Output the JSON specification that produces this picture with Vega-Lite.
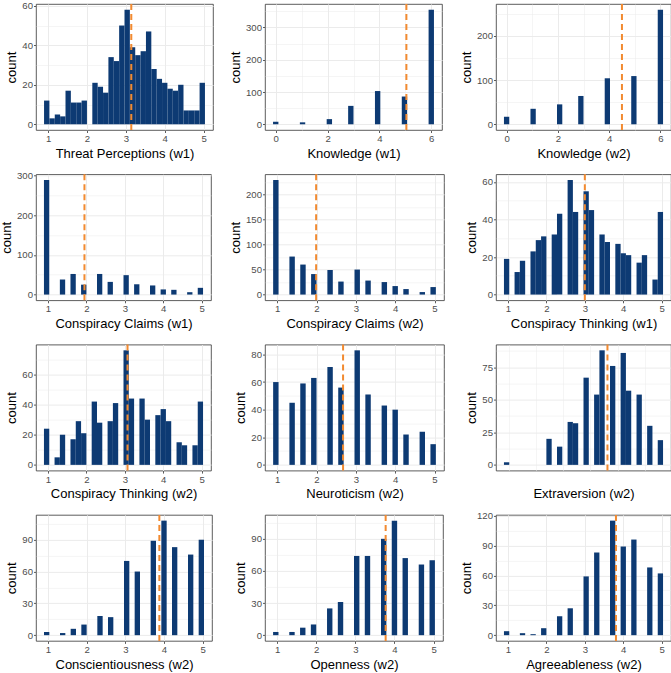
{
"$schema": "https://vega.github.io/schema/vega-lite/v6.json",
"padding": {"left": 0, "top": 0, "right": 0, "bottom": 0},
"background": "white",
"config": {
  "view": {"stroke": "#333333", "strokeWidth": 0.8},
  "font": "Liberation Sans",
  "axis": {"domain": false, "grid": true, "gridColor": "#EBEBEB", "labelColor": "#4D4D4D", "labelFontSize": 9.6, "labelFont": "Liberation Sans", "titleFont": "Liberation Sans", "titleFontSize": 13, "titleFontWeight": "normal", "titleColor": "#000000", "tickColor": "#333333", "tickSize": 2.5, "tickWidth": 0.8, "labelOverlap": false, "labelFlush": false, "labelBound": false, "tickCount": 100},
  "axisX": {"labelPadding": 1, "titlePadding": 4},
  "axisY": {"labelPadding": 1, "titlePadding": 3}
},
"datasets": {
"means": [
 {"panel": "P1", "mean": 3.14}, {"panel": "P2", "mean": 5.04}, {"panel": "P3", "mean": 4.5},
 {"panel": "P4", "mean": 1.95}, {"panel": "P5", "mean": 1.99}, {"panel": "P6", "mean": 3.0},
 {"panel": "P7", "mean": 3.07}, {"panel": "P8", "mean": 2.675}, {"panel": "P9", "mean": 3.13},
 {"panel": "P10", "mean": 3.88}, {"panel": "P11", "mean": 3.775}, {"panel": "P12", "mean": 3.81}
],
"bins": [
 {"panel": "P1", "start": 0.8966, "end": 1.0345, "count": 12},
 {"panel": "P1", "start": 1.0345, "end": 1.1724, "count": 3},
 {"panel": "P1", "start": 1.1724, "end": 1.3103, "count": 5},
 {"panel": "P1", "start": 1.3103, "end": 1.4483, "count": 4},
 {"panel": "P1", "start": 1.4483, "end": 1.5862, "count": 17},
 {"panel": "P1", "start": 1.5862, "end": 1.7241, "count": 11},
 {"panel": "P1", "start": 1.7241, "end": 1.8621, "count": 11},
 {"panel": "P1", "start": 1.8621, "end": 2.0, "count": 12},
 {"panel": "P1", "start": 2.1379, "end": 2.2759, "count": 21},
 {"panel": "P1", "start": 2.2759, "end": 2.4138, "count": 19},
 {"panel": "P1", "start": 2.4138, "end": 2.5517, "count": 16},
 {"panel": "P1", "start": 2.5517, "end": 2.6897, "count": 34},
 {"panel": "P1", "start": 2.6897, "end": 2.8276, "count": 32},
 {"panel": "P1", "start": 2.8276, "end": 2.9655, "count": 50},
 {"panel": "P1", "start": 2.9655, "end": 3.1034, "count": 58},
 {"panel": "P1", "start": 3.1034, "end": 3.2414, "count": 39},
 {"panel": "P1", "start": 3.2414, "end": 3.3793, "count": 35},
 {"panel": "P1", "start": 3.3793, "end": 3.5172, "count": 37},
 {"panel": "P1", "start": 3.5172, "end": 3.6552, "count": 47},
 {"panel": "P1", "start": 3.6552, "end": 3.7931, "count": 28},
 {"panel": "P1", "start": 3.7931, "end": 3.9310, "count": 23},
 {"panel": "P1", "start": 3.9310, "end": 4.0690, "count": 21},
 {"panel": "P1", "start": 4.0690, "end": 4.2069, "count": 18},
 {"panel": "P1", "start": 4.2069, "end": 4.3448, "count": 17},
 {"panel": "P1", "start": 4.3448, "end": 4.4828, "count": 20},
 {"panel": "P1", "start": 4.4828, "end": 4.6207, "count": 7},
 {"panel": "P1", "start": 4.6207, "end": 4.7586, "count": 7},
 {"panel": "P1", "start": 4.7586, "end": 4.8966, "count": 7},
 {"panel": "P1", "start": 4.8966, "end": 5.0345, "count": 21},
 {"panel": "P2", "start": -0.1034, "end": 0.1034, "count": 8},
 {"panel": "P2", "start": 0.9310, "end": 1.1379, "count": 6},
 {"panel": "P2", "start": 1.9655, "end": 2.1724, "count": 16},
 {"panel": "P2", "start": 2.7931, "end": 3.0, "count": 57},
 {"panel": "P2", "start": 3.8276, "end": 4.0345, "count": 103},
 {"panel": "P2", "start": 4.8621, "end": 5.0690, "count": 86},
 {"panel": "P2", "start": 5.8966, "end": 6.1034, "count": 355},
 {"panel": "P3", "start": -0.1034, "end": 0.1034, "count": 17},
 {"panel": "P3", "start": 0.9310, "end": 1.1379, "count": 35},
 {"panel": "P3", "start": 1.9655, "end": 2.1724, "count": 45},
 {"panel": "P3", "start": 2.7931, "end": 3.0, "count": 64},
 {"panel": "P3", "start": 3.8276, "end": 4.0345, "count": 104},
 {"panel": "P3", "start": 4.8621, "end": 5.0690, "count": 109},
 {"panel": "P3", "start": 5.8966, "end": 6.1034, "count": 259},
 {"panel": "P4", "start": 0.8966, "end": 1.0345, "count": 289},
 {"panel": "P4", "start": 1.3103, "end": 1.4483, "count": 38},
 {"panel": "P4", "start": 1.5862, "end": 1.7241, "count": 52},
 {"panel": "P4", "start": 1.8621, "end": 2.0, "count": 25},
 {"panel": "P4", "start": 2.2759, "end": 2.4138, "count": 52},
 {"panel": "P4", "start": 2.5517, "end": 2.6897, "count": 32},
 {"panel": "P4", "start": 2.9655, "end": 3.1034, "count": 49},
 {"panel": "P4", "start": 3.2414, "end": 3.3793, "count": 26},
 {"panel": "P4", "start": 3.6552, "end": 3.7931, "count": 23},
 {"panel": "P4", "start": 3.9310, "end": 4.0690, "count": 13},
 {"panel": "P4", "start": 4.2069, "end": 4.3448, "count": 12},
 {"panel": "P4", "start": 4.6207, "end": 4.7586, "count": 6},
 {"panel": "P4", "start": 4.8966, "end": 5.0345, "count": 17},
 {"panel": "P5", "start": 0.8966, "end": 1.0345, "count": 229},
 {"panel": "P5", "start": 1.3103, "end": 1.4483, "count": 76},
 {"panel": "P5", "start": 1.5862, "end": 1.7241, "count": 60},
 {"panel": "P5", "start": 1.8621, "end": 2.0, "count": 41},
 {"panel": "P5", "start": 2.2759, "end": 2.4138, "count": 49},
 {"panel": "P5", "start": 2.5517, "end": 2.6897, "count": 26},
 {"panel": "P5", "start": 2.9655, "end": 3.1034, "count": 50},
 {"panel": "P5", "start": 3.2414, "end": 3.3793, "count": 28},
 {"panel": "P5", "start": 3.6552, "end": 3.7931, "count": 25},
 {"panel": "P5", "start": 3.9310, "end": 4.0690, "count": 17},
 {"panel": "P5", "start": 4.2069, "end": 4.3448, "count": 11},
 {"panel": "P5", "start": 4.6207, "end": 4.7586, "count": 5},
 {"panel": "P5", "start": 4.8966, "end": 5.0345, "count": 15},
 {"panel": "P6", "start": 0.8966, "end": 1.0345, "count": 19},
 {"panel": "P6", "start": 1.1724, "end": 1.3103, "count": 12},
 {"panel": "P6", "start": 1.3103, "end": 1.4483, "count": 18},
 {"panel": "P6", "start": 1.5862, "end": 1.7241, "count": 23},
 {"panel": "P6", "start": 1.7241, "end": 1.8621, "count": 29},
 {"panel": "P6", "start": 1.8621, "end": 2.0, "count": 31},
 {"panel": "P6", "start": 2.1379, "end": 2.2759, "count": 32},
 {"panel": "P6", "start": 2.2759, "end": 2.4138, "count": 43},
 {"panel": "P6", "start": 2.5517, "end": 2.6897, "count": 61},
 {"panel": "P6", "start": 2.6897, "end": 2.8276, "count": 44},
 {"panel": "P6", "start": 2.9655, "end": 3.1034, "count": 55},
 {"panel": "P6", "start": 3.1034, "end": 3.2414, "count": 45},
 {"panel": "P6", "start": 3.3793, "end": 3.5172, "count": 32},
 {"panel": "P6", "start": 3.5172, "end": 3.6552, "count": 28},
 {"panel": "P6", "start": 3.7931, "end": 3.9310, "count": 27},
 {"panel": "P6", "start": 3.9310, "end": 4.0690, "count": 22},
 {"panel": "P6", "start": 4.0690, "end": 4.2069, "count": 21},
 {"panel": "P6", "start": 4.3448, "end": 4.4828, "count": 17},
 {"panel": "P6", "start": 4.4828, "end": 4.6207, "count": 21},
 {"panel": "P6", "start": 4.7586, "end": 4.8966, "count": 8},
 {"panel": "P6", "start": 4.8966, "end": 5.0345, "count": 44},
 {"panel": "P7", "start": 0.8966, "end": 1.0345, "count": 24},
 {"panel": "P7", "start": 1.1724, "end": 1.3103, "count": 5},
 {"panel": "P7", "start": 1.3103, "end": 1.4483, "count": 20},
 {"panel": "P7", "start": 1.5862, "end": 1.7241, "count": 17},
 {"panel": "P7", "start": 1.7241, "end": 1.8621, "count": 29},
 {"panel": "P7", "start": 1.8621, "end": 2.0, "count": 21},
 {"panel": "P7", "start": 2.1379, "end": 2.2759, "count": 42},
 {"panel": "P7", "start": 2.2759, "end": 2.4138, "count": 28},
 {"panel": "P7", "start": 2.5517, "end": 2.6897, "count": 29},
 {"panel": "P7", "start": 2.6897, "end": 2.8276, "count": 41},
 {"panel": "P7", "start": 2.9655, "end": 3.1034, "count": 76},
 {"panel": "P7", "start": 3.1034, "end": 3.2414, "count": 44},
 {"panel": "P7", "start": 3.3793, "end": 3.5172, "count": 44},
 {"panel": "P7", "start": 3.5172, "end": 3.6552, "count": 30},
 {"panel": "P7", "start": 3.7931, "end": 3.9310, "count": 33},
 {"panel": "P7", "start": 3.9310, "end": 4.0690, "count": 37},
 {"panel": "P7", "start": 4.0690, "end": 4.2069, "count": 29},
 {"panel": "P7", "start": 4.3448, "end": 4.4828, "count": 15},
 {"panel": "P7", "start": 4.4828, "end": 4.6207, "count": 13},
 {"panel": "P7", "start": 4.7586, "end": 4.8966, "count": 13},
 {"panel": "P7", "start": 4.8966, "end": 5.0345, "count": 42},
 {"panel": "P8", "start": 0.8966, "end": 1.0345, "count": 60},
 {"panel": "P8", "start": 1.3103, "end": 1.4483, "count": 45},
 {"panel": "P8", "start": 1.5862, "end": 1.7241, "count": 59},
 {"panel": "P8", "start": 1.8621, "end": 2.0, "count": 63},
 {"panel": "P8", "start": 2.2759, "end": 2.4138, "count": 71},
 {"panel": "P8", "start": 2.5517, "end": 2.6897, "count": 56},
 {"panel": "P8", "start": 2.9655, "end": 3.1034, "count": 83},
 {"panel": "P8", "start": 3.2414, "end": 3.3793, "count": 51},
 {"panel": "P8", "start": 3.6552, "end": 3.7931, "count": 43},
 {"panel": "P8", "start": 3.9310, "end": 4.0690, "count": 40},
 {"panel": "P8", "start": 4.2069, "end": 4.3448, "count": 22},
 {"panel": "P8", "start": 4.6207, "end": 4.7586, "count": 24},
 {"panel": "P8", "start": 4.8966, "end": 5.0345, "count": 15},
 {"panel": "P9", "start": -0.6839, "end": -0.4885, "count": 2},
 {"panel": "P9", "start": 0.8793, "end": 1.0747, "count": 20},
 {"panel": "P9", "start": 1.2701, "end": 1.4655, "count": 14},
 {"panel": "P9", "start": 1.6609, "end": 1.8563, "count": 33},
 {"panel": "P9", "start": 1.8563, "end": 2.0517, "count": 32},
 {"panel": "P9", "start": 2.2471, "end": 2.4425, "count": 67},
 {"panel": "P9", "start": 2.6379, "end": 2.8333, "count": 54},
 {"panel": "P9", "start": 2.8333, "end": 3.0287, "count": 88},
 {"panel": "P9", "start": 3.2241, "end": 3.4195, "count": 76},
 {"panel": "P9", "start": 3.6149, "end": 3.8103, "count": 86},
 {"panel": "P9", "start": 3.8103, "end": 4.0057, "count": 57},
 {"panel": "P9", "start": 4.2011, "end": 4.3966, "count": 54},
 {"panel": "P9", "start": 4.5920, "end": 4.7874, "count": 30},
 {"panel": "P9", "start": 4.9828, "end": 5.1782, "count": 19},
 {"panel": "P10", "start": 0.8966, "end": 1.0345, "count": 3},
 {"panel": "P10", "start": 1.3103, "end": 1.4483, "count": 2},
 {"panel": "P10", "start": 1.5862, "end": 1.7241, "count": 6},
 {"panel": "P10", "start": 1.8621, "end": 2.0, "count": 10},
 {"panel": "P10", "start": 2.2759, "end": 2.4138, "count": 18},
 {"panel": "P10", "start": 2.5517, "end": 2.6897, "count": 17},
 {"panel": "P10", "start": 2.9655, "end": 3.1034, "count": 70},
 {"panel": "P10", "start": 3.2414, "end": 3.3793, "count": 60},
 {"panel": "P10", "start": 3.6552, "end": 3.7931, "count": 89},
 {"panel": "P10", "start": 3.9310, "end": 4.0690, "count": 108},
 {"panel": "P10", "start": 4.2069, "end": 4.3448, "count": 83},
 {"panel": "P10", "start": 4.6207, "end": 4.7586, "count": 76},
 {"panel": "P10", "start": 4.8966, "end": 5.0345, "count": 90},
 {"panel": "P11", "start": 0.8966, "end": 1.0345, "count": 3},
 {"panel": "P11", "start": 1.3103, "end": 1.4483, "count": 3},
 {"panel": "P11", "start": 1.5862, "end": 1.7241, "count": 7},
 {"panel": "P11", "start": 1.8621, "end": 2.0, "count": 10},
 {"panel": "P11", "start": 2.2759, "end": 2.4138, "count": 25},
 {"panel": "P11", "start": 2.5517, "end": 2.6897, "count": 31},
 {"panel": "P11", "start": 2.9655, "end": 3.1034, "count": 74},
 {"panel": "P11", "start": 3.2414, "end": 3.3793, "count": 74},
 {"panel": "P11", "start": 3.6552, "end": 3.7931, "count": 90},
 {"panel": "P11", "start": 3.9310, "end": 4.0690, "count": 107},
 {"panel": "P11", "start": 4.2069, "end": 4.3448, "count": 72},
 {"panel": "P11", "start": 4.6207, "end": 4.7586, "count": 66},
 {"panel": "P11", "start": 4.8966, "end": 5.0345, "count": 70},
 {"panel": "P12", "start": 0.8966, "end": 1.0345, "count": 4},
 {"panel": "P12", "start": 1.3103, "end": 1.4483, "count": 2},
 {"panel": "P12", "start": 1.5862, "end": 1.7241, "count": 1},
 {"panel": "P12", "start": 1.8621, "end": 2.0, "count": 7},
 {"panel": "P12", "start": 2.2759, "end": 2.4138, "count": 19},
 {"panel": "P12", "start": 2.5517, "end": 2.6897, "count": 27},
 {"panel": "P12", "start": 2.9655, "end": 3.1034, "count": 59},
 {"panel": "P12", "start": 3.2414, "end": 3.3793, "count": 83},
 {"panel": "P12", "start": 3.6552, "end": 3.7931, "count": 115},
 {"panel": "P12", "start": 3.9310, "end": 4.0690, "count": 89},
 {"panel": "P12", "start": 4.2069, "end": 4.3448, "count": 96},
 {"panel": "P12", "start": 4.6207, "end": 4.7586, "count": 68},
 {"panel": "P12", "start": 4.8966, "end": 5.0345, "count": 62}
]
},
"columns": 3,
"align": "none",
"bounds": "flush",
"spacing": {"row": 44.3, "column": 52},
"concat": [
  {"width": 177, "height": 126, "layer": [
   {"data": {"name": "bins"}, "transform": [{"filter": "datum.panel === 'P1'"}], "mark": {"type": "bar", "color": "#0D3A73"},
    "encoding": {
     "x": {"field": "start", "type": "quantitative", "title": "Threat Perceptions (w1)", "scale": {"domain": [0.6897, 5.2414], "nice": false, "zero": false}, "axis": {"format": "d", "tickCount": 100, "values": [1, 1.5, 2, 2.5, 3, 3.5, 4, 4.5, 5], "labelExpr": "datum.value % 1 === 0 ? datum.label : ''", "tickOpacity": {"condition": {"test": "datum.value % 1 === 0", "value": 1}, "value": 0}, "gridWidth": {"condition": {"test": "datum.value % 1 === 0", "value": 1}, "value": 0.5}}},
     "x2": {"field": "end"},
     "y": {"field": "count", "type": "quantitative", "title": "count", "scale": {"domain": [-2.9, 60.9], "nice": false, "zero": false}, "axis": {"format": "d", "tickCount": 100, "values": [0, 10, 20, 30, 40, 50, 60], "labelExpr": "datum.value % 20 === 0 ? datum.label : ''", "tickOpacity": {"condition": {"test": "datum.value % 20 === 0", "value": 1}, "value": 0}, "gridWidth": {"condition": {"test": "datum.value % 20 === 0", "value": 1}, "value": 0.5}}},
     "y2": {"datum": 0}}},
   {"data": {"name": "means"}, "transform": [{"filter": "datum.panel === 'P1'"}], "mark": {"type": "rule", "color": "#F28A30", "strokeWidth": 2, "strokeDash": [6, 4]},
    "encoding": {"x": {"field": "mean", "type": "quantitative", "title": "Threat Perceptions (w1)"}}}
  ]},
  {"width": 177, "height": 126, "layer": [
   {"data": {"name": "bins"}, "transform": [{"filter": "datum.panel === 'P2'"}], "mark": {"type": "bar", "color": "#0D3A73"},
    "encoding": {
     "x": {"field": "start", "type": "quantitative", "title": "Knowledge (w1)", "scale": {"domain": [-0.4138, 6.4138], "nice": false, "zero": false}, "axis": {"format": "d", "tickCount": 100, "values": [0, 1, 2, 3, 4, 5, 6], "labelExpr": "datum.value % 2 === 0 ? datum.label : ''", "tickOpacity": {"condition": {"test": "datum.value % 2 === 0", "value": 1}, "value": 0}, "gridWidth": {"condition": {"test": "datum.value % 2 === 0", "value": 1}, "value": 0.5}}},
     "x2": {"field": "end"},
     "y": {"field": "count", "type": "quantitative", "title": "count", "scale": {"domain": [-17.75, 372.75], "nice": false, "zero": false}, "axis": {"format": "d", "tickCount": 100, "values": [0, 50, 100, 150, 200, 250, 300, 350], "labelExpr": "datum.value % 100 === 0 ? datum.label : ''", "tickOpacity": {"condition": {"test": "datum.value % 100 === 0", "value": 1}, "value": 0}, "gridWidth": {"condition": {"test": "datum.value % 100 === 0", "value": 1}, "value": 0.5}}},
     "y2": {"datum": 0}}},
   {"data": {"name": "means"}, "transform": [{"filter": "datum.panel === 'P2'"}], "mark": {"type": "rule", "color": "#F28A30", "strokeWidth": 2, "strokeDash": [6, 4]},
    "encoding": {"x": {"field": "mean", "type": "quantitative", "title": "Knowledge (w1)"}}}
  ]},
  {"width": 175, "height": 126, "layer": [
   {"data": {"name": "bins"}, "transform": [{"filter": "datum.panel === 'P3'"}], "mark": {"type": "bar", "color": "#0D3A73"},
    "encoding": {
     "x": {"field": "start", "type": "quantitative", "title": "Knowledge (w2)", "scale": {"domain": [-0.4138, 6.4138], "nice": false, "zero": false}, "axis": {"format": "d", "tickCount": 100, "values": [0, 1, 2, 3, 4, 5, 6], "labelExpr": "datum.value % 2 === 0 ? datum.label : ''", "tickOpacity": {"condition": {"test": "datum.value % 2 === 0", "value": 1}, "value": 0}, "gridWidth": {"condition": {"test": "datum.value % 2 === 0", "value": 1}, "value": 0.5}}},
     "x2": {"field": "end"},
     "y": {"field": "count", "type": "quantitative", "title": "count", "scale": {"domain": [-12.95, 271.95], "nice": false, "zero": false}, "axis": {"format": "d", "tickCount": 100, "values": [0, 50, 100, 150, 200, 250], "labelExpr": "datum.value % 100 === 0 ? datum.label : ''", "tickOpacity": {"condition": {"test": "datum.value % 100 === 0", "value": 1}, "value": 0}, "gridWidth": {"condition": {"test": "datum.value % 100 === 0", "value": 1}, "value": 0.5}}},
     "y2": {"datum": 0}}},
   {"data": {"name": "means"}, "transform": [{"filter": "datum.panel === 'P3'"}], "mark": {"type": "rule", "color": "#F28A30", "strokeWidth": 2, "strokeDash": [6, 4]},
    "encoding": {"x": {"field": "mean", "type": "quantitative", "title": "Knowledge (w2)"}}}
  ]},
  {"width": 175, "height": 126, "layer": [
   {"data": {"name": "bins"}, "transform": [{"filter": "datum.panel === 'P4'"}], "mark": {"type": "bar", "color": "#0D3A73"},
    "encoding": {
     "x": {"field": "start", "type": "quantitative", "title": "Conspiracy Claims (w1)", "scale": {"domain": [0.6897, 5.2414], "nice": false, "zero": false}, "axis": {"format": "d", "tickCount": 100, "values": [1, 1.5, 2, 2.5, 3, 3.5, 4, 4.5, 5], "labelExpr": "datum.value % 1 === 0 ? datum.label : ''", "tickOpacity": {"condition": {"test": "datum.value % 1 === 0", "value": 1}, "value": 0}, "gridWidth": {"condition": {"test": "datum.value % 1 === 0", "value": 1}, "value": 0.5}}},
     "x2": {"field": "end"},
     "y": {"field": "count", "type": "quantitative", "title": "count", "scale": {"domain": [-14.45, 303.45], "nice": false, "zero": false}, "axis": {"format": "d", "tickCount": 100, "values": [0, 50, 100, 150, 200, 250, 300], "labelExpr": "datum.value % 100 === 0 ? datum.label : ''", "tickOpacity": {"condition": {"test": "datum.value % 100 === 0", "value": 1}, "value": 0}, "gridWidth": {"condition": {"test": "datum.value % 100 === 0", "value": 1}, "value": 0.5}}},
     "y2": {"datum": 0}}},
   {"data": {"name": "means"}, "transform": [{"filter": "datum.panel === 'P4'"}], "mark": {"type": "rule", "color": "#F28A30", "strokeWidth": 2, "strokeDash": [6, 4]},
    "encoding": {"x": {"field": "mean", "type": "quantitative", "title": "Conspiracy Claims (w1)"}}}
  ]},
  {"width": 179, "height": 126, "layer": [
   {"data": {"name": "bins"}, "transform": [{"filter": "datum.panel === 'P5'"}], "mark": {"type": "bar", "color": "#0D3A73"},
    "encoding": {
     "x": {"field": "start", "type": "quantitative", "title": "Conspiracy Claims (w2)", "scale": {"domain": [0.6897, 5.2414], "nice": false, "zero": false}, "axis": {"format": "d", "tickCount": 100, "values": [1, 1.5, 2, 2.5, 3, 3.5, 4, 4.5, 5], "labelExpr": "datum.value % 1 === 0 ? datum.label : ''", "tickOpacity": {"condition": {"test": "datum.value % 1 === 0", "value": 1}, "value": 0}, "gridWidth": {"condition": {"test": "datum.value % 1 === 0", "value": 1}, "value": 0.5}}},
     "x2": {"field": "end"},
     "y": {"field": "count", "type": "quantitative", "title": "count", "scale": {"domain": [-11.45, 240.45], "nice": false, "zero": false}, "axis": {"format": "d", "tickCount": 100, "values": [0, 25, 50, 75, 100, 125, 150, 175, 200, 225], "labelExpr": "datum.value % 50 === 0 ? datum.label : ''", "tickOpacity": {"condition": {"test": "datum.value % 50 === 0", "value": 1}, "value": 0}, "gridWidth": {"condition": {"test": "datum.value % 50 === 0", "value": 1}, "value": 0.5}}},
     "y2": {"datum": 0}}},
   {"data": {"name": "means"}, "transform": [{"filter": "datum.panel === 'P5'"}], "mark": {"type": "rule", "color": "#F28A30", "strokeWidth": 2, "strokeDash": [6, 4]},
    "encoding": {"x": {"field": "mean", "type": "quantitative", "title": "Conspiracy Claims (w2)"}}}
  ]},
  {"width": 175, "height": 126, "layer": [
   {"data": {"name": "bins"}, "transform": [{"filter": "datum.panel === 'P6'"}], "mark": {"type": "bar", "color": "#0D3A73"},
    "encoding": {
     "x": {"field": "start", "type": "quantitative", "title": "Conspiracy Thinking (w1)", "scale": {"domain": [0.6897, 5.2414], "nice": false, "zero": false}, "axis": {"format": "d", "tickCount": 100, "values": [1, 1.5, 2, 2.5, 3, 3.5, 4, 4.5, 5], "labelExpr": "datum.value % 1 === 0 ? datum.label : ''", "tickOpacity": {"condition": {"test": "datum.value % 1 === 0", "value": 1}, "value": 0}, "gridWidth": {"condition": {"test": "datum.value % 1 === 0", "value": 1}, "value": 0.5}}},
     "x2": {"field": "end"},
     "y": {"field": "count", "type": "quantitative", "title": "count", "scale": {"domain": [-3.05, 64.05], "nice": false, "zero": false}, "axis": {"format": "d", "tickCount": 100, "values": [0, 10, 20, 30, 40, 50, 60], "labelExpr": "datum.value % 20 === 0 ? datum.label : ''", "tickOpacity": {"condition": {"test": "datum.value % 20 === 0", "value": 1}, "value": 0}, "gridWidth": {"condition": {"test": "datum.value % 20 === 0", "value": 1}, "value": 0.5}}},
     "y2": {"datum": 0}}},
   {"data": {"name": "means"}, "transform": [{"filter": "datum.panel === 'P6'"}], "mark": {"type": "rule", "color": "#F28A30", "strokeWidth": 2, "strokeDash": [6, 4]},
    "encoding": {"x": {"field": "mean", "type": "quantitative", "title": "Conspiracy Thinking (w1)"}}}
  ]},
  {"width": 175, "height": 126, "layer": [
   {"data": {"name": "bins"}, "transform": [{"filter": "datum.panel === 'P7'"}], "mark": {"type": "bar", "color": "#0D3A73"},
    "encoding": {
     "x": {"field": "start", "type": "quantitative", "title": "Conspiracy Thinking (w2)", "scale": {"domain": [0.6897, 5.2414], "nice": false, "zero": false}, "axis": {"format": "d", "tickCount": 100, "values": [1, 1.5, 2, 2.5, 3, 3.5, 4, 4.5, 5], "labelExpr": "datum.value % 1 === 0 ? datum.label : ''", "tickOpacity": {"condition": {"test": "datum.value % 1 === 0", "value": 1}, "value": 0}, "gridWidth": {"condition": {"test": "datum.value % 1 === 0", "value": 1}, "value": 0.5}}},
     "x2": {"field": "end"},
     "y": {"field": "count", "type": "quantitative", "title": "count", "scale": {"domain": [-3.8, 79.8], "nice": false, "zero": false}, "axis": {"format": "d", "tickCount": 100, "values": [0, 10, 20, 30, 40, 50, 60, 70], "labelExpr": "datum.value % 20 === 0 ? datum.label : ''", "tickOpacity": {"condition": {"test": "datum.value % 20 === 0", "value": 1}, "value": 0}, "gridWidth": {"condition": {"test": "datum.value % 20 === 0", "value": 1}, "value": 0.5}}},
     "y2": {"datum": 0}}},
   {"data": {"name": "means"}, "transform": [{"filter": "datum.panel === 'P7'"}], "mark": {"type": "rule", "color": "#F28A30", "strokeWidth": 2, "strokeDash": [6, 4]},
    "encoding": {"x": {"field": "mean", "type": "quantitative", "title": "Conspiracy Thinking (w2)"}}}
  ]},
  {"width": 179, "height": 126, "layer": [
   {"data": {"name": "bins"}, "transform": [{"filter": "datum.panel === 'P8'"}], "mark": {"type": "bar", "color": "#0D3A73"},
    "encoding": {
     "x": {"field": "start", "type": "quantitative", "title": "Neuroticism (w2)", "scale": {"domain": [0.6897, 5.2414], "nice": false, "zero": false}, "axis": {"format": "d", "tickCount": 100, "values": [1, 1.5, 2, 2.5, 3, 3.5, 4, 4.5, 5], "labelExpr": "datum.value % 1 === 0 ? datum.label : ''", "tickOpacity": {"condition": {"test": "datum.value % 1 === 0", "value": 1}, "value": 0}, "gridWidth": {"condition": {"test": "datum.value % 1 === 0", "value": 1}, "value": 0.5}}},
     "x2": {"field": "end"},
     "y": {"field": "count", "type": "quantitative", "title": "count", "scale": {"domain": [-4.15, 87.15], "nice": false, "zero": false}, "axis": {"format": "d", "tickCount": 100, "values": [0, 10, 20, 30, 40, 50, 60, 70, 80], "labelExpr": "datum.value % 20 === 0 ? datum.label : ''", "tickOpacity": {"condition": {"test": "datum.value % 20 === 0", "value": 1}, "value": 0}, "gridWidth": {"condition": {"test": "datum.value % 20 === 0", "value": 1}, "value": 0.5}}},
     "y2": {"datum": 0}}},
   {"data": {"name": "means"}, "transform": [{"filter": "datum.panel === 'P8'"}], "mark": {"type": "rule", "color": "#F28A30", "strokeWidth": 2, "strokeDash": [6, 4]},
    "encoding": {"x": {"field": "mean", "type": "quantitative", "title": "Neuroticism (w2)"}}}
  ]},
  {"width": 175, "height": 126, "layer": [
   {"data": {"name": "bins"}, "transform": [{"filter": "datum.panel === 'P9'"}], "mark": {"type": "bar", "color": "#0D3A73"},
    "encoding": {
     "x": {"field": "start", "type": "quantitative", "title": "Extraversion (w2)", "scale": {"domain": [-0.977, 5.4713], "nice": false, "zero": false}, "axis": {"format": "d", "tickCount": 100, "values": [-0.5, 0, 0.5, 1, 1.5, 2, 2.5, 3, 3.5, 4, 4.5, 5], "labelExpr": "datum.value % 1 === 0 ? datum.label : ''", "tickOpacity": {"condition": {"test": "datum.value % 1 === 0", "value": 1}, "value": 0}, "gridWidth": {"condition": {"test": "datum.value % 1 === 0", "value": 1}, "value": 0.5}}},
     "x2": {"field": "end"},
     "y": {"field": "count", "type": "quantitative", "title": "count", "scale": {"domain": [-4.4, 92.4], "nice": false, "zero": false}, "axis": {"format": "d", "tickCount": 100, "values": [0, 12.5, 25, 37.5, 50, 62.5, 75, 87.5], "labelExpr": "datum.value % 25 === 0 ? datum.label : ''", "tickOpacity": {"condition": {"test": "datum.value % 25 === 0", "value": 1}, "value": 0}, "gridWidth": {"condition": {"test": "datum.value % 25 === 0", "value": 1}, "value": 0.5}}},
     "y2": {"datum": 0}}},
   {"data": {"name": "means"}, "transform": [{"filter": "datum.panel === 'P9'"}], "mark": {"type": "rule", "color": "#F28A30", "strokeWidth": 2, "strokeDash": [6, 4]},
    "encoding": {"x": {"field": "mean", "type": "quantitative", "title": "Extraversion (w2)"}}}
  ]},
  {"width": 176, "height": 126, "layer": [
   {"data": {"name": "bins"}, "transform": [{"filter": "datum.panel === 'P10'"}], "mark": {"type": "bar", "color": "#0D3A73"},
    "encoding": {
     "x": {"field": "start", "type": "quantitative", "title": "Conscientiousness (w2)", "scale": {"domain": [0.6897, 5.2414], "nice": false, "zero": false}, "axis": {"format": "d", "tickCount": 100, "values": [1, 1.5, 2, 2.5, 3, 3.5, 4, 4.5, 5], "labelExpr": "datum.value % 1 === 0 ? datum.label : ''", "tickOpacity": {"condition": {"test": "datum.value % 1 === 0", "value": 1}, "value": 0}, "gridWidth": {"condition": {"test": "datum.value % 1 === 0", "value": 1}, "value": 0.5}}},
     "x2": {"field": "end"},
     "y": {"field": "count", "type": "quantitative", "title": "count", "scale": {"domain": [-5.4, 113.4], "nice": false, "zero": false}, "axis": {"format": "d", "tickCount": 100, "values": [0, 15, 30, 45, 60, 75, 90, 105], "labelExpr": "datum.value % 30 === 0 ? datum.label : ''", "tickOpacity": {"condition": {"test": "datum.value % 30 === 0", "value": 1}, "value": 0}, "gridWidth": {"condition": {"test": "datum.value % 30 === 0", "value": 1}, "value": 0.5}}},
     "y2": {"datum": 0}}},
   {"data": {"name": "means"}, "transform": [{"filter": "datum.panel === 'P10'"}], "mark": {"type": "rule", "color": "#F28A30", "strokeWidth": 2, "strokeDash": [6, 4]},
    "encoding": {"x": {"field": "mean", "type": "quantitative", "title": "Conscientiousness (w2)"}}}
  ]},
  {"width": 178, "height": 126, "layer": [
   {"data": {"name": "bins"}, "transform": [{"filter": "datum.panel === 'P11'"}], "mark": {"type": "bar", "color": "#0D3A73"},
    "encoding": {
     "x": {"field": "start", "type": "quantitative", "title": "Openness (w2)", "scale": {"domain": [0.6897, 5.2414], "nice": false, "zero": false}, "axis": {"format": "d", "tickCount": 100, "values": [1, 1.5, 2, 2.5, 3, 3.5, 4, 4.5, 5], "labelExpr": "datum.value % 1 === 0 ? datum.label : ''", "tickOpacity": {"condition": {"test": "datum.value % 1 === 0", "value": 1}, "value": 0}, "gridWidth": {"condition": {"test": "datum.value % 1 === 0", "value": 1}, "value": 0.5}}},
     "x2": {"field": "end"},
     "y": {"field": "count", "type": "quantitative", "title": "count", "scale": {"domain": [-5.35, 112.35], "nice": false, "zero": false}, "axis": {"format": "d", "tickCount": 100, "values": [0, 15, 30, 45, 60, 75, 90, 105], "labelExpr": "datum.value % 30 === 0 ? datum.label : ''", "tickOpacity": {"condition": {"test": "datum.value % 30 === 0", "value": 1}, "value": 0}, "gridWidth": {"condition": {"test": "datum.value % 30 === 0", "value": 1}, "value": 0.5}}},
     "y2": {"datum": 0}}},
   {"data": {"name": "means"}, "transform": [{"filter": "datum.panel === 'P11'"}], "mark": {"type": "rule", "color": "#F28A30", "strokeWidth": 2, "strokeDash": [6, 4]},
    "encoding": {"x": {"field": "mean", "type": "quantitative", "title": "Openness (w2)"}}}
  ]},
  {"width": 175, "height": 126, "layer": [
   {"data": {"name": "bins"}, "transform": [{"filter": "datum.panel === 'P12'"}], "mark": {"type": "bar", "color": "#0D3A73"},
    "encoding": {
     "x": {"field": "start", "type": "quantitative", "title": "Agreeableness (w2)", "scale": {"domain": [0.6897, 5.2414], "nice": false, "zero": false}, "axis": {"format": "d", "tickCount": 100, "values": [1, 1.5, 2, 2.5, 3, 3.5, 4, 4.5, 5], "labelExpr": "datum.value % 1 === 0 ? datum.label : ''", "tickOpacity": {"condition": {"test": "datum.value % 1 === 0", "value": 1}, "value": 0}, "gridWidth": {"condition": {"test": "datum.value % 1 === 0", "value": 1}, "value": 0.5}}},
     "x2": {"field": "end"},
     "y": {"field": "count", "type": "quantitative", "title": "count", "scale": {"domain": [-5.75, 120.75], "nice": false, "zero": false}, "axis": {"format": "d", "tickCount": 100, "values": [0, 15, 30, 45, 60, 75, 90, 105, 120], "labelExpr": "datum.value % 30 === 0 ? datum.label : ''", "tickOpacity": {"condition": {"test": "datum.value % 30 === 0", "value": 1}, "value": 0}, "gridWidth": {"condition": {"test": "datum.value % 30 === 0", "value": 1}, "value": 0.5}}},
     "y2": {"datum": 0}}},
   {"data": {"name": "means"}, "transform": [{"filter": "datum.panel === 'P12'"}], "mark": {"type": "rule", "color": "#F28A30", "strokeWidth": 2, "strokeDash": [6, 4]},
    "encoding": {"x": {"field": "mean", "type": "quantitative", "title": "Agreeableness (w2)"}}}
  ]}
]
}
